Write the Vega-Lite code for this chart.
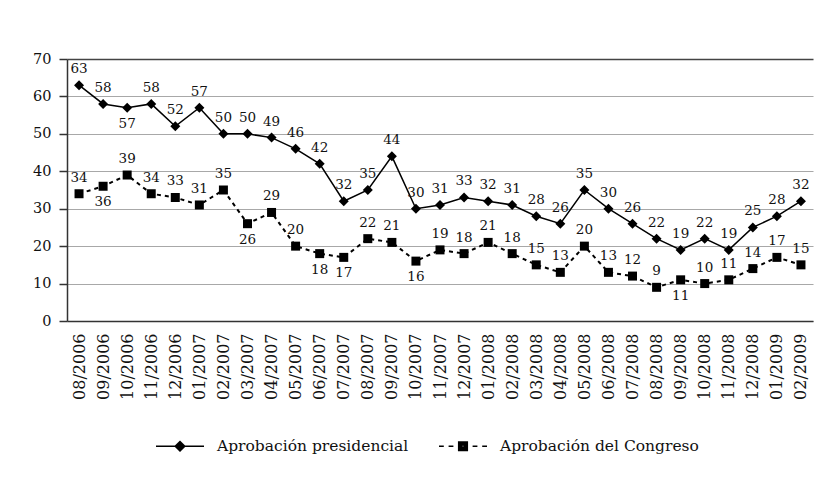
{
  "$schema": "https://vega.github.io/schema/vega-lite/v6.json",
  "width": 746,
  "height": 262,
  "autosize": {"type": "none"},
  "padding": {"left": 67, "top": 59, "right": 11, "bottom": 156},
  "background": "white",
  "config": {
    "font": "DejaVu Serif",
    "view": {"stroke": null},
    "text": {"font": "DejaVu Serif"}
  },
  "data": {
    "values": [
      {"month": "08/2006", "series": "Aprobación presidencial", "value": 63},
      {"month": "09/2006", "series": "Aprobación presidencial", "value": 58},
      {"month": "10/2006", "series": "Aprobación presidencial", "value": 57},
      {"month": "11/2006", "series": "Aprobación presidencial", "value": 58},
      {"month": "12/2006", "series": "Aprobación presidencial", "value": 52},
      {"month": "01/2007", "series": "Aprobación presidencial", "value": 57},
      {"month": "02/2007", "series": "Aprobación presidencial", "value": 50},
      {"month": "03/2007", "series": "Aprobación presidencial", "value": 50},
      {"month": "04/2007", "series": "Aprobación presidencial", "value": 49},
      {"month": "05/2007", "series": "Aprobación presidencial", "value": 46},
      {"month": "06/2007", "series": "Aprobación presidencial", "value": 42},
      {"month": "07/2007", "series": "Aprobación presidencial", "value": 32},
      {"month": "08/2007", "series": "Aprobación presidencial", "value": 35},
      {"month": "09/2007", "series": "Aprobación presidencial", "value": 44},
      {"month": "10/2007", "series": "Aprobación presidencial", "value": 30},
      {"month": "11/2007", "series": "Aprobación presidencial", "value": 31},
      {"month": "12/2007", "series": "Aprobación presidencial", "value": 33},
      {"month": "01/2008", "series": "Aprobación presidencial", "value": 32},
      {"month": "02/2008", "series": "Aprobación presidencial", "value": 31},
      {"month": "03/2008", "series": "Aprobación presidencial", "value": 28},
      {"month": "04/2008", "series": "Aprobación presidencial", "value": 26},
      {"month": "05/2008", "series": "Aprobación presidencial", "value": 35},
      {"month": "06/2008", "series": "Aprobación presidencial", "value": 30},
      {"month": "07/2008", "series": "Aprobación presidencial", "value": 26},
      {"month": "08/2008", "series": "Aprobación presidencial", "value": 22},
      {"month": "09/2008", "series": "Aprobación presidencial", "value": 19},
      {"month": "10/2008", "series": "Aprobación presidencial", "value": 22},
      {"month": "11/2008", "series": "Aprobación presidencial", "value": 19},
      {"month": "12/2008", "series": "Aprobación presidencial", "value": 25},
      {"month": "01/2009", "series": "Aprobación presidencial", "value": 28},
      {"month": "02/2009", "series": "Aprobación presidencial", "value": 32},
      {"month": "08/2006", "series": "Aprobación del Congreso", "value": 34},
      {"month": "09/2006", "series": "Aprobación del Congreso", "value": 36},
      {"month": "10/2006", "series": "Aprobación del Congreso", "value": 39},
      {"month": "11/2006", "series": "Aprobación del Congreso", "value": 34},
      {"month": "12/2006", "series": "Aprobación del Congreso", "value": 33},
      {"month": "01/2007", "series": "Aprobación del Congreso", "value": 31},
      {"month": "02/2007", "series": "Aprobación del Congreso", "value": 35},
      {"month": "03/2007", "series": "Aprobación del Congreso", "value": 26},
      {"month": "04/2007", "series": "Aprobación del Congreso", "value": 29},
      {"month": "05/2007", "series": "Aprobación del Congreso", "value": 20},
      {"month": "06/2007", "series": "Aprobación del Congreso", "value": 18},
      {"month": "07/2007", "series": "Aprobación del Congreso", "value": 17},
      {"month": "08/2007", "series": "Aprobación del Congreso", "value": 22},
      {"month": "09/2007", "series": "Aprobación del Congreso", "value": 21},
      {"month": "10/2007", "series": "Aprobación del Congreso", "value": 16},
      {"month": "11/2007", "series": "Aprobación del Congreso", "value": 19},
      {"month": "12/2007", "series": "Aprobación del Congreso", "value": 18},
      {"month": "01/2008", "series": "Aprobación del Congreso", "value": 21},
      {"month": "02/2008", "series": "Aprobación del Congreso", "value": 18},
      {"month": "03/2008", "series": "Aprobación del Congreso", "value": 15},
      {"month": "04/2008", "series": "Aprobación del Congreso", "value": 13},
      {"month": "05/2008", "series": "Aprobación del Congreso", "value": 20},
      {"month": "06/2008", "series": "Aprobación del Congreso", "value": 13},
      {"month": "07/2008", "series": "Aprobación del Congreso", "value": 12},
      {"month": "08/2008", "series": "Aprobación del Congreso", "value": 9},
      {"month": "09/2008", "series": "Aprobación del Congreso", "value": 11},
      {"month": "10/2008", "series": "Aprobación del Congreso", "value": 10},
      {"month": "11/2008", "series": "Aprobación del Congreso", "value": 11},
      {"month": "12/2008", "series": "Aprobación del Congreso", "value": 14},
      {"month": "01/2009", "series": "Aprobación del Congreso", "value": 17},
      {"month": "02/2009", "series": "Aprobación del Congreso", "value": 15}
    ]
  },
  "encoding": {
    "x": {
      "field": "month",
      "type": "ordinal",
      "sort": ["08/2006","09/2006","10/2006","11/2006","12/2006","01/2007","02/2007","03/2007","04/2007","05/2007","06/2007","07/2007","08/2007","09/2007","10/2007","11/2007","12/2007","01/2008","02/2008","03/2008","04/2008","05/2008","06/2008","07/2008","08/2008","09/2008","10/2008","11/2008","12/2008","01/2009","02/2009"],
      "scale": {"type": "point", "padding": 0.5},
      "axis": {
        "title": null,
        "labelAngle": -90,
        "labelFont": "DejaVu Serif",
        "labelFontSize": 16,
        "labelColor": "#111",
        "labelPadding": 12,
        "ticks": false,
        "tickSize": 0,
        "domainColor": "#333",
        "domainWidth": 1.5,
        "grid": false
      }
    },
    "y": {
      "field": "value",
      "type": "quantitative",
      "scale": {"domain": [0, 70], "nice": false},
      "axis": {
        "title": null,
        "values": [0, 10, 20, 30, 40, 50, 60, 70],
        "labelFont": "DejaVu Serif",
        "labelFontSize": 14.5,
        "labelColor": "#111",
        "tickSize": 8,
        "labelPadding": 8,
        "tickColor": "#333",
        "tickWidth": 1.5,
        "domainColor": "#333",
        "domainWidth": 1.5,
        "grid": true,
        "gridColor": {"condition": {"test": "datum.value === 70", "value": "#444"}, "value": "#a8a8a8"},
        "gridWidth": {"condition": {"test": "datum.value === 70", "value": 1.5}, "value": 1.2}
      }
    }
  },
  "layer": [
    {
      "transform": [{"filter": "datum.series === 'Aprobación presidencial'"}],
      "mark": {
        "type": "line",
        "color": "black",
        "strokeWidth": 1.5,
        "point": {"shape": "diamond", "size": 100, "filled": true, "color": "black", "opacity": 1}
      }
    },
    {
      "transform": [{"filter": "datum.series === 'Aprobación del Congreso'"}],
      "mark": {
        "type": "line",
        "color": "black",
        "strokeWidth": 2,
        "strokeDash": [4, 4],
        "point": {"shape": "square", "size": 81, "filled": true, "color": "black", "opacity": 1}
      }
    },
    {
      "transform": [{"filter": "datum.series === 'Aprobación presidencial' && datum.month !== '10/2006'"}],
      "mark": {"type": "text", "dy": -16, "fontSize": 13.5, "color": "#111", "baseline": "middle"},
      "encoding": {"text": {"field": "value", "type": "quantitative", "format": "d"}}
    },
    {
      "transform": [{"filter": "datum.series === 'Aprobación presidencial' && datum.month === '10/2006'"}],
      "mark": {"type": "text", "dy": 16, "fontSize": 13.5, "color": "#111", "baseline": "middle"},
      "encoding": {"text": {"field": "value", "type": "quantitative", "format": "d"}}
    },
    {
      "transform": [{"filter": "datum.series === 'Aprobación del Congreso' && indexof(['09/2006','03/2007','06/2007','07/2007','10/2007','09/2008'], datum.month) < 0"}],
      "mark": {"type": "text", "dy": -16, "fontSize": 13.5, "color": "#111", "baseline": "middle"},
      "encoding": {"text": {"field": "value", "type": "quantitative", "format": "d"}}
    },
    {
      "transform": [{"filter": "datum.series === 'Aprobación del Congreso' && indexof(['09/2006','03/2007','06/2007','07/2007','10/2007','09/2008'], datum.month) >= 0"}],
      "mark": {"type": "text", "dy": 16, "fontSize": 13.5, "color": "#111", "baseline": "middle"},
      "encoding": {"text": {"field": "value", "type": "quantitative", "format": "d"}}
    },
    {
      "mark": {"type": "point", "opacity": 0, "filled": false, "color": "black", "strokeWidth": 1.5, "size": 2304},
      "encoding": {
        "shape": {
          "field": "series",
          "type": "nominal",
          "scale": {
            "domain": ["Aprobación presidencial", "Aprobación del Congreso"],
            "range": [
              "M-1,0H1M0,-0.2L0.2,0L0,0.2L-0.2,0ZM0,-0.13L0.13,0L0,0.13L-0.13,0ZM0,-0.06L0.06,0L0,0.06L-0.06,0Z",
              "M-1,0H-0.8M-0.6,0H-0.4M-0.18,-0.18H0.18V0.18H-0.18ZM-0.12,-0.12H0.12V0.12H-0.12ZM-0.06,-0.06H0.06V0.06H-0.06ZM-0.02,0H0.02M0.4,0H0.6M0.8,0H1"
            ]
          },
          "legend": {
            "title": null,
            "orient": "none",
            "legendX": 88,
            "legendY": 362,
            "direction": "horizontal",
            "padding": 0,
            "symbolSize": 2304,
            "symbolOpacity": 1,
            "symbolStrokeColor": "black",
            "symbolStrokeWidth": 1.5,
            "labelFont": "DejaVu Serif",
            "labelFontSize": 15.5,
            "labelColor": "#111",
            "labelLimit": 400,
            "labelOffset": 12,
            "columnPadding": 27
          }
        }
      }
    }
  ]
}
